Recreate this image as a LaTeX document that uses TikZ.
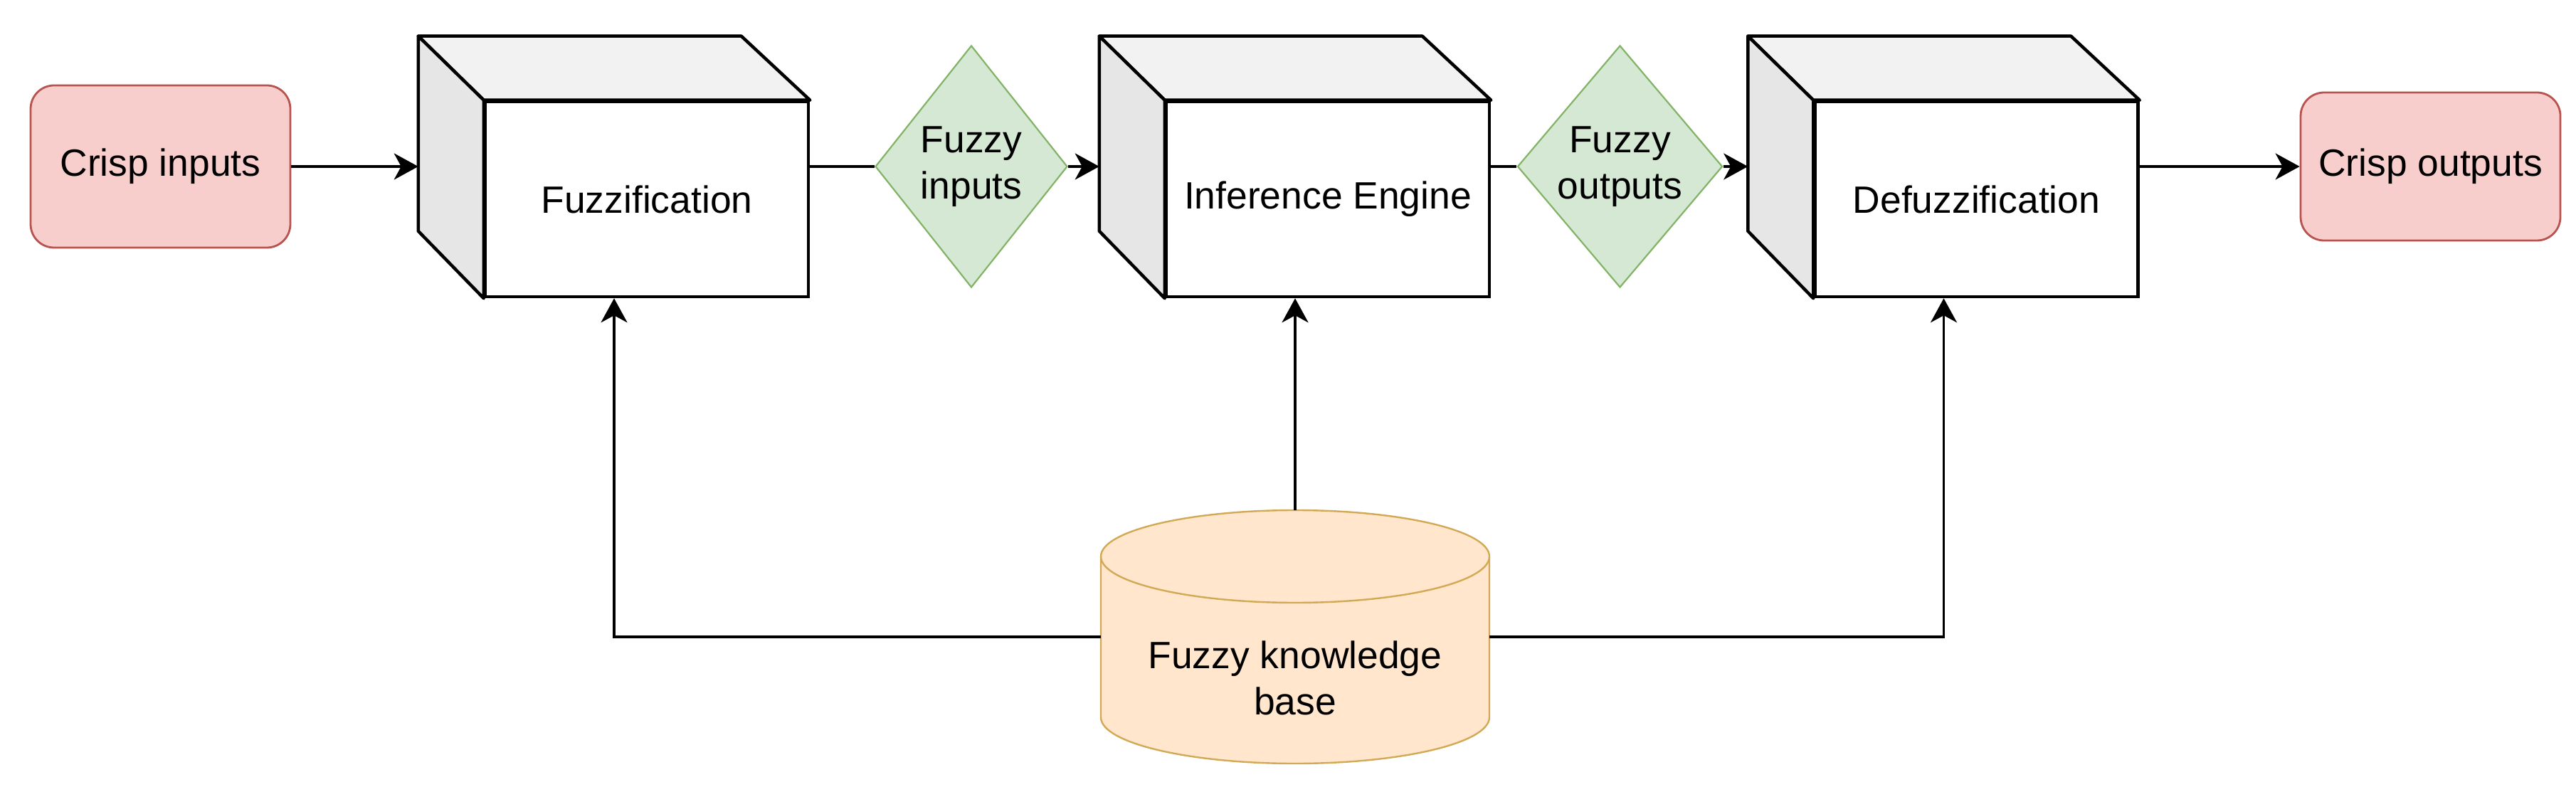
\documentclass[tikz,border=0pt]{standalone}
\usepackage{fontspec}
\setmainfont{Liberation Sans}
\usetikzlibrary{shapes.geometric,arrows.meta,calc}
\definecolor{crispfill}{HTML}{F8CECC}
\definecolor{crispdraw}{HTML}{B85450}
\definecolor{fuzzfill}{HTML}{D5E8D4}
\definecolor{fuzzdraw}{HTML}{82B366}
\definecolor{kbfill}{HTML}{FFE6CC}
\definecolor{kbdraw}{HTML}{D2AA55}
\definecolor{topface}{HTML}{F2F2F2}
\definecolor{sideface}{HTML}{E6E6E6}
\begin{document}
\begin{tikzpicture}[
  x=1cm,y=1cm,
  every node/.style={font=\fontsize{15.2pt}{18.5pt}\selectfont, text=black},
  crisp/.style={rectangle, rounded corners=0.33cm, fill=crispfill, draw=crispdraw, line width=0.028cm, minimum width=3.65cm, inner sep=0pt},
  fuzzyd/.style={diamond, fill=fuzzfill, draw=fuzzdraw, line width=0.022cm, minimum width=2.70cm, minimum height=3.40cm, inner sep=0pt, align=center},
  front/.style={rectangle, fill=white, draw=black, line width=0.045cm, minimum width=4.54cm, minimum height=2.74cm, inner sep=0pt},
  topf/.style={fill=topface, draw=black, line width=0.045cm, line join=round},
  sidef/.style={fill=sideface, draw=black, line width=0.045cm, line join=round},
  kbbox/.style={rectangle, draw=none, minimum width=5.46cm, minimum height=3.56cm, inner sep=0pt, outer sep=0pt},
  kbshape/.style={fill=kbfill, draw=kbdraw, line width=0.024cm},
  kbtxt/.style={align=center, inner sep=0pt},
  conn/.style={draw=black, line width=0.036cm},
  arr/.style={conn, -{Stealth[length=3.4mm, width=3.7mm, inset=1mm]}}
]
\useasboundingbox (0,0) rectangle (36.2,-11.06);

% crisp boxes
\node[crisp, minimum height=2.28cm] (cin) at (2.255,-2.34) {Crisp inputs};
\node[crisp, minimum height=2.08cm] (cout) at (34.155,-2.34) {Crisp outputs};

% cube front faces
\node[front] (fuzz) at (9.09,-2.80) {Fuzzification};
\node[front] (inf) at (18.66,-2.80) {Inference Engine};
\node[front] (def) at (27.775,-2.80) {Defuzzification};

\foreach \c in {fuzz,inf,def} {
  \draw[topf] (\c.north west) -- ++(-0.92,0.90) -- ++(4.54,0) -- (\c.north east) -- cycle;
  \draw[sidef] (\c.north west) -- ++(-0.92,0.90) -- ++(0,-2.74) -- (\c.south west) -- cycle;
  \coordinate (\c-back) at ($(\c.north west)+(-0.92,0.90)$);
  \coordinate (\c-mid) at ($(\c.south)+(-0.46,0)$);
}

% diamonds
\node[fuzzyd] (fin) at (13.65,-2.34) {Fuzzy\\inputs};
\node[fuzzyd] (fout) at (22.765,-2.34) {Fuzzy\\outputs};

% knowledge base cylinder
\node[kbbox] (kb) at (18.20,-8.95) {};
\path[kbshape] ($(kb.north west)+(0,-0.65)$) -- ($(kb.south west)+(0,0.65)$)
  arc[start angle=180, end angle=360, x radius=2.73, y radius=0.65]
  -- ($(kb.north east)+(0,-0.65)$)
  arc[start angle=0, end angle=180, x radius=2.73, y radius=0.65] -- cycle;
\draw[kbdraw, line width=0.024cm] ($(kb.north west)+(0,-0.65)$)
  arc[start angle=180, end angle=360, x radius=2.73, y radius=0.65];
\node[kbtxt] (kbtext) at ($(kb.center)+(0,-0.58)$) {Fuzzy knowledge\\base};

% connectors
\draw[arr] (cin.east) -- (cin.east -| fuzz-back);
\draw[conn] (fin.west -| fuzz.east) -- (fin.west);
\draw[arr] (fin.east) -- (fin.east -| inf-back);
\draw[conn] (fout.west -| inf.east) -- (fout.west);
\draw[arr] (fout.east) -- (fout.east -| def-back);
\draw[arr] (cout.west -| def.east) -- (cout.west);
\draw[arr] (kb.west) -| (fuzz-mid);
\draw[arr] (kb.north) -- (inf-mid);
\draw[arr] (kb.east) -| (def-mid);
\end{tikzpicture}
\end{document}
